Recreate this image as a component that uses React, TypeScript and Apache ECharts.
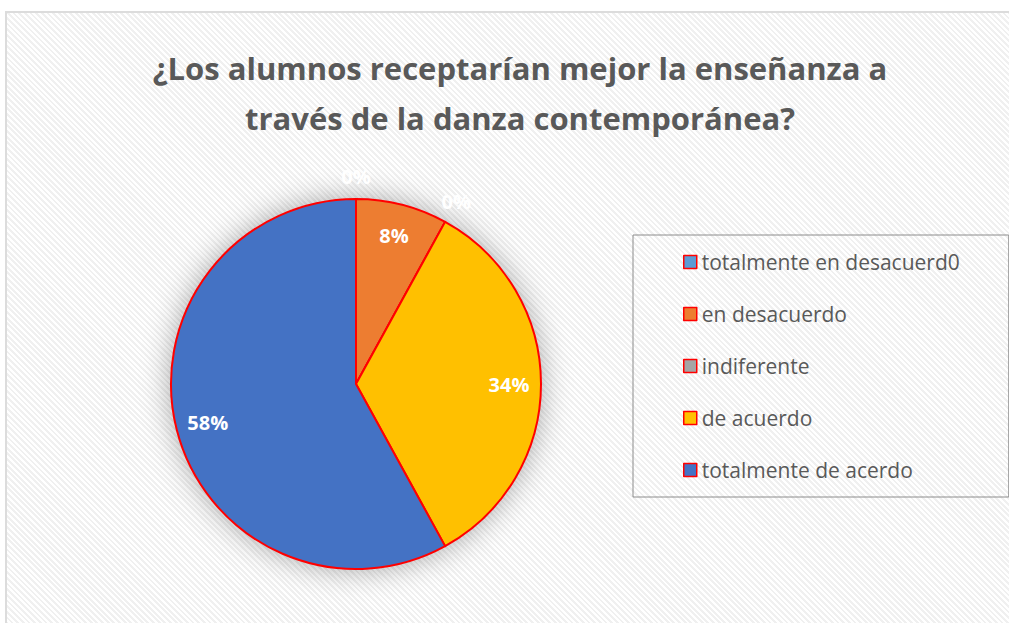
import React, { useEffect, useRef } from "react";
import * as echarts from "echarts";

const titleText = "¿Los alumnos receptarían mejor la enseñanza a\ntravés de la danza contemporánea?";
const categories = [
  "totalmente en desacuerd0",
  "en desacuerdo",
  "indiferente",
  "de acuerdo",
  "totalmente de acerdo",
];
const values = [0, 8, 0, 34, 58];
const colors = ["#5B9BD5", "#ED7D31", "#A5A5A5", "#FFC000", "#4472C4"];

export default function App() {
  const ref = useRef<HTMLDivElement>(null);
  useEffect(() => {
    if (!ref.current) return;
    const chart = echarts.init(ref.current, null, { renderer: "svg" });
    const data = categories.map((name, i) => ({
      name,
      value: values[i],
      itemStyle: { color: colors[i] },
    }));
    const center = [356, 384];
    const labelBase = {
      position: "inside",
      color: "#ffffff",
      fontFamily: "Open Sans",
      fontWeight: "bold",
      fontSize: 20,
    };
    chart.setOption({
      animation: false,
      backgroundColor: "transparent",
      title: {
        text: titleText,
        left: 515,
        textAlign: "center",
        top: 38,
        textStyle: {
          fontFamily: "Open Sans",
          fontWeight: "bold",
          fontSize: 31,
          color: "#595959",
          lineHeight: 50,
        },
      },
      legend: {
        orient: "vertical",
        left: 633,
        top: 235,
        padding: [15, 49, 15, 50],
        itemGap: 28,
        itemWidth: 13,
        itemHeight: 13,
        borderColor: "#8c8c8c",
        borderWidth: 1,
        icon: "rect",
        data: categories,
        itemStyle: { borderColor: "#FF0000", borderWidth: 1.5 },
        textStyle: { fontFamily: "Open Sans", fontSize: 21, color: "#595959", lineHeight: 24 },
      },
      series: [
        {
          type: "pie",
          radius: 185,
          center,
          startAngle: 90,
          silent: true,
          z: 1,
          data: data.map((d) => ({
            ...d,
            itemStyle: {
              ...d.itemStyle,
              shadowBlur: 30,
              shadowColor: "rgba(0,0,0,0.35)",
            },
          })),
          label: { show: false },
          labelLine: { show: false },
          emphasis: { disabled: true },
        },
        {
          type: "pie",
          radius: 185,
          center,
          startAngle: 90,
          z: 2,
          data,
          label: { show: false },
          labelLine: { show: false },
          itemStyle: {
            borderColor: "#FF0000",
            borderWidth: 2,
          },
          emphasis: { disabled: true },
        },
        {
          type: "pie",
          radius: [0, 300],
          center,
          startAngle: 90,
          silent: true,
          z: 3,
          legendHoverLink: false,
          data: data.map((d) => ({ ...d, itemStyle: { color: "transparent" } })),
          label: {
            ...labelBase,
            formatter: (p: any) => (p.value > 0 ? p.value + "%" : ""),
          },
          labelLine: { show: false },
          emphasis: { disabled: true },
        },
        {
          type: "pie",
          radius: [0, 410],
          center,
          startAngle: 90,
          silent: true,
          z: 3,
          legendHoverLink: false,
          data: data.map((d) => ({ ...d, itemStyle: { color: "transparent" } })),
          label: {
            ...labelBase,
            formatter: (p: any) => (p.value === 0 ? "0%" : ""),
          },
          labelLine: { show: false },
          emphasis: { disabled: true },
        },
      ],
    });
    return () => chart.dispose();
  }, []);

  return (
    <div
      style={{
        position: "fixed",
        left: 0,
        top: 0,
        width: 1009,
        height: 623,
        background: "#ffffff",
        overflow: "hidden",
      }}
    >
      <div
        style={{
          position: "absolute",
          left: 5,
          top: 11,
          width: 1010,
          height: 620,
          border: "2px solid #dcdcdc",
          background:
            "repeating-linear-gradient(45deg, #ffffff 0px, #ffffff 2px, #f0f0f0 2px, #f0f0f0 4px)",
        }}
      >
        <div ref={ref} style={{ position: "absolute", left: -7, top: -13, width: 1009, height: 623 }} />
      </div>
    </div>
  );
}
